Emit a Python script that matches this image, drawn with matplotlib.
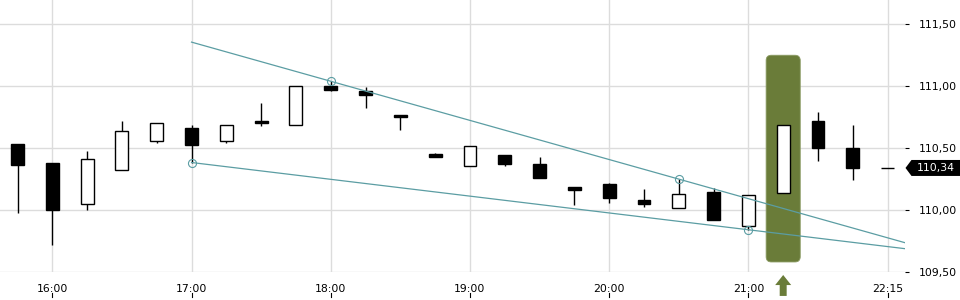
import matplotlib.pyplot as plt
import matplotlib.transforms as mtransforms
from matplotlib.patches import FancyBboxPatch, Polygon
from matplotlib.ticker import FuncFormatter

# 15 minute candles, x axis is candle index (22:00 is missing)
times = ['15:45', '16:00', '16:15', '16:30', '16:45', '17:00', '17:15', '17:30',
         '17:45', '18:00', '18:15', '18:30', '18:45', '19:00', '19:15', '19:30',
         '19:45', '20:00', '20:15', '20:30', '20:45', '21:00', '21:15', '21:30',
         '21:45', '22:15']
opens = [110.535, 110.381, 110.048, 110.323, 110.556, 110.661, 110.556, 110.720,
         110.685, 111.000, 110.960, 110.769, 110.452, 110.355, 110.446, 110.373,
         110.188, 110.212, 110.083, 110.013, 110.148, 109.871, 110.137, 110.720,
         110.500, 110.340]
highs = [110.535, 110.381, 110.478, 110.720, 110.702, 110.685, 110.685, 110.868,
         111.000, 111.043, 110.994, 110.769, 110.460, 110.516, 110.446, 110.430,
         110.188, 110.218, 110.172, 110.250, 110.177, 110.121, 110.685, 110.793,
         110.685, 110.340]
lows = [109.976, 109.715, 109.997, 110.323, 110.540, 110.384, 110.545, 110.682,
        110.685, 110.965, 110.827, 110.648, 110.432, 110.355, 110.352, 110.255,
        110.037, 110.054, 110.021, 110.013, 109.916, 109.841, 110.137, 110.400,
        110.239, 110.340]
closes = [110.360, 109.997, 110.411, 110.637, 110.702, 110.529, 110.685, 110.702,
          111.000, 110.973, 110.932, 110.755, 110.432, 110.516, 110.371, 110.255,
          110.158, 110.094, 110.048, 110.129, 109.916, 110.121, 110.685, 110.505,
          110.339, 110.340]

tick_idx = [1, 5, 9, 13, 17, 21, 25]
tick_labels = ['16:00', '17:00', '18:00', '19:00', '20:00', '21:00', '22:15']
y_ticks = [109.5, 110.0, 110.5, 111.0, 111.5]

# trend lines (start index, start value, second index, second value, end index)
upper_line = [5, 111.356, 19, 110.250, 25.5]
lower_line = [5, 110.384, 21, 109.841, 25.5]
touch_x = [5, 9, 19, 21]
touch_y = [110.384, 111.043, 110.250, 109.841]

signal_idx = 22
signal_top = 111.25
signal_bottom = 109.581
last_price = 110.34

line_col = '#5b9da3'
green = '#6a7c39'

fig = plt.figure(figsize=(9.6, 3.0), dpi=100)
ax = fig.add_axes([0, 28 / 300, 905 / 960, 272 / 300])

# signal highlight box
box = FancyBboxPatch((signal_idx - 0.49, signal_bottom), 0.98, signal_top - signal_bottom,
                     boxstyle='round,pad=0,rounding_size=0.15', mutation_aspect=0.28,
                     facecolor=green, edgecolor='#8a9a62', linewidth=0.6, zorder=1)
ax.add_patch(box)

# candles
x = list(range(len(times)))
ax.vlines(x, lows, highs, color='black', linewidth=1.0, zorder=3)
for i in x:
    o, c = opens[i], closes[i]
    fc = 'white' if c > o else 'black'
    ax.bar(i, abs(c - o), bottom=min(o, c), width=0.37, color=fc,
           edgecolor='black', linewidth=1.0, zorder=4)

# trend lines
for ln in [upper_line, lower_line]:
    slope = (ln[3] - ln[1]) / (ln[2] - ln[0])
    ax.plot([ln[0], ln[4]], [ln[1], ln[1] + slope * (ln[4] - ln[0])],
            color=line_col, linewidth=0.9, zorder=5)
ax.plot(touch_x, touch_y, 'o', markersize=5.8, markerfacecolor='none',
        markeredgecolor=line_col, markeredgewidth=0.8, zorder=6)

ax.set_xlim(-0.503, 25.5)
ax.set_ylim(109.5, 111.696)

ax.set_xticks(tick_idx)
ax.set_xticklabels(tick_labels)
ax.set_yticks(y_ticks)
ax.yaxis.set_major_formatter(FuncFormatter(lambda v, p: ('%.2f' % v).replace('.', ',')))
ax.yaxis.tick_right()
ax.tick_params(axis='y', direction='out', length=3, width=0.8, pad=7, labelsize=7.8)
ax.tick_params(axis='x', length=0, pad=9, labelsize=7.8)
ax.grid(True, color='#dcdcdc', linewidth=1.0)
ax.set_axisbelow(True)
for s in ax.spines.values():
    s.set_visible(False)

# little tick marks under the time labels
trans = mtransforms.blended_transform_factory(ax.transData, ax.transAxes)
for t in tick_idx:
    ax.plot([t, t], [-0.077, -0.092], color='black', linewidth=0.8,
            transform=trans, clip_on=False)

# arrow under the signal candle
arrow = [(signal_idx, -0.011), (signal_idx + 0.23, -0.048), (signal_idx + 0.1, -0.048),
         (signal_idx + 0.1, -0.088), (signal_idx - 0.1, -0.088), (signal_idx - 0.1, -0.048),
         (signal_idx - 0.23, -0.048)]
ax.add_patch(Polygon(arrow, closed=True, facecolor=green, edgecolor='none',
                     transform=trans, clip_on=False))

# last price tag
ftrans = mtransforms.blended_transform_factory(fig.transFigure, ax.transData)
h = 8 / 124
tag = [(905.5 / 960, last_price), (911.5 / 960, last_price + h), (1.0, last_price + h),
       (1.0, last_price - h), (911.5 / 960, last_price - h)]
ax.add_patch(Polygon(tag, closed=True, facecolor='black', edgecolor='none',
                     transform=ftrans, clip_on=False, zorder=10))
ax.text(936 / 960, last_price, ('%.2f' % last_price).replace('.', ','), color='white',
        fontsize=7.8, ha='center', va='center', transform=ftrans, zorder=11)

fig.savefig('out.png', dpi=100)
